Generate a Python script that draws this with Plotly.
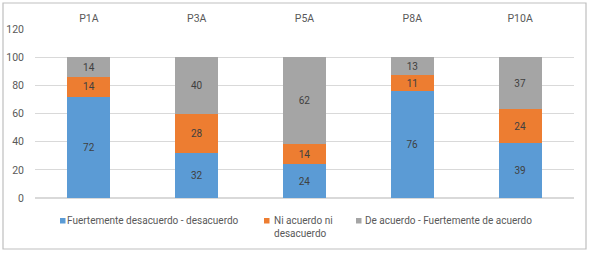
import plotly.graph_objects as go

categories = ["P1A", "P3A", "P5A", "P8A", "P10A"]
desacuerdo = [72, 32, 24, 76, 39]
ni = [14, 28, 14, 11, 24]
acuerdo = [14, 40, 62, 13, 37]
names = ["Fuertemente desacuerdo - desacuerdo", "Ni acuerdo ni<br>desacuerdo", "De acuerdo - Fuertemente de acuerdo"]
colors = ["#5B9BD5", "#ED7D31", "#A5A5A5"]

fig = go.Figure()
for vals, nm, c in zip([desacuerdo, ni, acuerdo], names, colors):
    fig.add_trace(go.Bar(x=categories, y=vals, name=nm, marker=dict(color=c, line=dict(width=0)),
                         text=vals, textposition="inside", insidetextanchor="middle",
                         textfont=dict(color="#404040", size=10, family="Roboto"),
                         cliponaxis=False, showlegend=False))

W, H = 589, 254
l, r, t, b = 35, 15, 29, 56
pw, ph = W - l - r, H - t - b

def px(x):
    return (x - l) / pw

def py(y):
    return (H - b - y) / ph

# chart border
fig.add_shape(type="rect", xref="paper", yref="paper", x0=px(3), x1=px(586), y0=py(3), y1=py(249),
              line=dict(color="#BFBFBF", width=1.2), fillcolor="rgba(0,0,0,0)", layer="above")

# manual legend
legend_sq_x = [60, 264, 356]
legend_txt_x = [65, 272, 363]
for i, (nm, c) in enumerate(zip(names, colors)):
    fig.add_shape(type="rect", xref="paper", yref="paper",
                  x0=px(legend_sq_x[i]), x1=px(legend_sq_x[i] + 5.5),
                  y0=py(218), y1=py(223.5), fillcolor=c, line=dict(width=0))
    fig.add_annotation(xref="paper", yref="paper", x=px(legend_txt_x[i]), y=py(213.5),
                       xanchor="left", yanchor="top", align="left", showarrow=False,
                       text=nm, font=dict(size=10, color="#595959", family="Roboto"))

fig.update_layout(
    width=W, height=H, margin=dict(l=l, r=r, t=t, b=b),
    barmode="stack", bargap=0.6,
    plot_bgcolor="white", paper_bgcolor="white",
    font=dict(family="Roboto", size=10, color="#595959"),
    showlegend=False,
    uniformtext=dict(minsize=10, mode="show"),
    xaxis=dict(side="top", showgrid=False, showline=False, ticks="", tickfont=dict(size=10.5),
               automargin=False, ticklabelstandoff=4),
    yaxis=dict(range=[0, 120], dtick=20, showgrid=True, gridcolor="#D9D9D9", gridwidth=1,
               zeroline=True, zerolinecolor="#D9D9D9", showline=False, ticks="",
               tickfont=dict(size=10.5), ticklabelstandoff=10, automargin=False),
)
fig.write_html("out.html", config={"displayModeBar": False},
               post_script="document.body.style.margin='0';document.body.style.overflow='hidden';")
